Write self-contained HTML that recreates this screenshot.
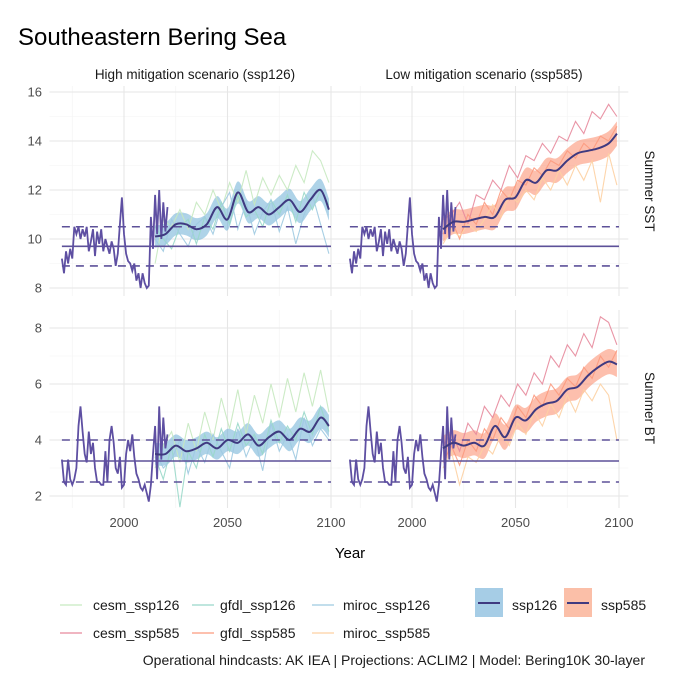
<!DOCTYPE html>
<html><head><meta charset="utf-8"><style>
body{margin:0;background:#fff;width:678px;height:680px;overflow:hidden;font-family:"Liberation Sans",Arial,sans-serif}
svg text{font-family:"Liberation Sans",Arial,sans-serif}
</style></head><body>
<svg id="c" width="678" height="680"></svg>
<script>
const hindYears=[1970,1971,1972,1973,1974,1975,1976,1977,1978,1979,1980,1981,1982,1983,1984,1985,1986,1987,1988,1989,1990,1991,1992,1993,1994,1995,1996,1997,1998,1999,2000,2001,2002,2003,2004,2005,2006,2007,2008,2009,2010,2011,2012,2013,2014,2015,2016,2017,2018,2019,2020,2021];
const hindSST=[9.2,8.6,9.5,9.0,9.6,9.2,10.5,10.2,10.5,10.0,10.4,10.1,10.5,9.5,9.9,10.4,9.3,10.3,9.8,10.4,9.5,10.0,9.7,9.4,9.9,9.6,8.9,9.4,10.6,11.7,10.2,9.4,9.1,9.0,8.7,9.0,8.3,8.6,8.0,8.6,8.2,8.0,8.1,10.9,9.6,11.8,10.2,12.0,10.0,11.5,10.3,11.3];
const hindBT=[3.3,2.5,2.4,3.3,2.6,2.4,2.6,3.0,4.5,5.2,4.3,3.5,3.2,4.3,3.5,3.9,3.0,2.5,2.5,2.4,2.4,3.6,2.5,4.0,4.5,3.9,3.0,2.8,3.4,2.3,2.4,3.5,4.0,3.6,4.2,3.4,2.8,2.6,2.3,2.2,2.4,2.1,1.8,2.4,3.5,4.5,2.6,5.2,3.3,4.8,3.7,4.2];
const meanYears=[2015,2020,2025,2030,2035,2040,2045,2050,2055,2060,2065,2070,2075,2080,2085,2090,2095,2099];
const mSST126=[10.1,10.2,10.6,10.6,10.4,10.6,11.3,10.8,11.9,11.1,11.3,11.0,11.3,11.6,11.1,11.6,12.0,11.2];
const mSST585=[10.4,10.7,10.7,10.8,10.9,10.9,11.6,11.7,12.4,12.3,12.8,12.8,13.2,13.5,13.6,13.7,13.9,14.3];
const mBT126=[3.5,3.5,3.8,3.6,3.7,3.9,3.7,4.0,3.9,4.2,3.8,4.1,4.3,4.0,4.4,4.3,4.8,4.5];
const mBT585=[3.7,3.9,3.8,3.9,3.8,4.5,4.1,4.8,4.7,5.1,5.3,5.4,5.8,5.9,6.3,6.6,6.8,6.7];
const modYears=[2015,2019,2023,2027,2031,2035,2039,2043,2047,2051,2055,2059,2063,2067,2071,2075,2079,2083,2087,2091,2095,2099];
const sst126_cesm=[9.0,10.8,10.5,11.2,10.4,11.5,11.0,12.0,11.2,12.3,11.5,12.8,11.4,12.5,11.8,12.6,12.0,13.0,12.3,13.6,13.2,12.3];
const sst126_gfdl=[10.5,10.0,9.6,10.5,10.8,9.8,10.9,10.4,11.5,10.6,11.8,10.9,11.2,10.5,11.6,11.0,11.8,10.7,11.9,11.2,12.0,11.4];
const sst126_miroc=[10.0,9.5,10.8,10.2,9.7,10.6,10.9,10.2,11.3,11.9,10.4,11.5,10.2,11.1,11.6,10.3,11.3,9.8,11.0,11.8,10.6,9.4];
const sst585_cesm=[10.8,11.0,11.5,10.6,11.8,11.6,12.4,12.0,13.0,12.5,13.4,13.2,13.9,13.5,14.2,14.0,14.8,14.3,15.2,14.9,15.5,15.0];
const sst585_gfdl=[10.2,10.8,10.0,11.0,10.6,11.5,11.0,12.0,11.6,12.4,12.2,12.9,12.6,13.2,13.0,13.6,13.3,13.9,13.6,14.2,14.0,14.6];
const sst585_miroc=[9.8,10.4,10.1,10.6,10.3,10.8,11.4,10.9,11.8,11.5,12.0,11.6,12.5,12.0,12.8,12.2,13.0,12.4,13.2,11.5,13.5,12.2];
const bt126_cesm=[3.0,3.8,4.3,3.2,4.6,3.6,5.0,4.0,5.5,4.4,5.8,4.2,5.6,4.6,6.0,4.8,6.2,5.0,6.4,5.2,6.5,5.0];
const bt126_gfdl=[3.4,2.6,3.8,1.6,3.6,3.0,4.2,3.4,4.4,3.6,4.6,3.8,4.2,3.5,4.7,3.9,4.5,4.0,5.0,4.2,5.2,4.3];
const bt126_miroc=[3.6,3.0,3.3,4.0,2.8,3.8,3.2,4.2,3.6,3.0,4.4,3.4,4.1,2.9,4.6,3.6,4.2,3.3,4.8,3.8,4.4,4.0];
const bt585_cesm=[3.8,4.3,3.6,4.6,4.2,5.2,4.8,5.6,5.2,6.0,5.6,6.4,6.0,7.0,6.6,7.4,7.0,7.8,7.3,8.4,8.2,7.4];
const bt585_gfdl=[3.2,3.8,3.1,4.0,3.6,4.4,4.0,4.8,4.4,5.2,4.8,5.6,5.2,6.0,5.6,6.2,5.9,6.6,6.2,7.0,6.6,7.2];
const bt585_miroc=[3.0,3.6,2.4,3.4,3.2,3.8,3.5,4.2,3.8,4.6,4.2,5.0,4.5,5.3,4.8,5.6,5.0,5.8,5.4,6.0,5.6,4.0];
const sstRef=[8.9,9.7,10.5];
const btRef=[2.5,3.25,4.0];
const sstTicks=[8,10,12,14,16];
const btTicks=[2,4,6,8];
const xTicks=[2000,2050,2100];

const NS='http://www.w3.org/2000/svg';
const svg=document.getElementById('c');
function el(tag,attrs,parent,text){const e=document.createElementNS(NS,tag);for(const k in attrs)e.setAttribute(k,attrs[k]);if(text!==undefined)e.textContent=text;(parent||svg).appendChild(e);return e;}
function xs(col){const base=col===0?124:412;return y=>base+(y-2000)*2.07;}
const ysT=v=>288-(v-8)*24.5;
const ysB=v=>496-(v-2)*28;
function line(xa,ya,X,Y){return xa.map((x,i)=>(i?'L':'M')+X(x).toFixed(1)+','+Y(ya[i]).toFixed(1)).join('');}
function smooth(xa,ya,X,Y){const p=xa.map((x,i)=>[X(x),Y(ya[i])]);let d='M'+p[0][0]+','+p[0][1];for(let i=0;i<p.length-1;i++){const p0=p[i-1]||p[i],p1=p[i],p2=p[i+1],p3=p[i+2]||p2;d+='C'+(p1[0]+(p2[0]-p0[0])/6)+','+(p1[1]+(p2[1]-p0[1])/6)+' '+(p2[0]-(p3[0]-p1[0])/6)+','+(p2[1]-(p3[1]-p1[1])/6)+' '+p2[0]+','+p2[1];}return d;}

el('text',{x:18,y:45,'font-size':24,fill:'#000',},svg,'Southeastern Bering Sea');
el('text',{x:195,y:79,'font-size':13.5,fill:'#1a1a1a','text-anchor':'middle',},svg,'High mitigation scenario (ssp126)');
el('text',{x:484,y:79,'font-size':13.5,fill:'#1a1a1a','text-anchor':'middle',},svg,'Low mitigation scenario (ssp585)');
el('text',{x:0,y:0,'font-size':13.5,fill:'#1a1a1a','text-anchor':'middle',transform:'translate(645,191) rotate(90)',},svg,'Summer SST');
el('text',{x:0,y:0,'font-size':13.5,fill:'#1a1a1a','text-anchor':'middle',transform:'translate(645,408) rotate(90)',},svg,'Summer BT');

const cols={c126:['#c7e9c0','#99d8c9','#9ecae1'],c585:['#e7899c','#fc9a7e','#fdd0a2']};
const panels=[
 {col:0,row:0,Y:ysT,ticks:sstTicks,minor:[9,11,13,15],ref:sstRef,hind:hindSST,mean:mSST126,mods:[sst126_cesm,sst126_gfdl,sst126_miroc],mc:cols.c126,band:'#6baed6',bw:0.45,y0:86,y1:296,name:'sst-ssp126'},
 {col:1,row:0,Y:ysT,ticks:sstTicks,minor:[9,11,13,15],ref:sstRef,hind:hindSST,mean:mSST585,mods:[sst585_cesm,sst585_gfdl,sst585_miroc],mc:cols.c585,band:'#fb8a6a',bw:0.5,y0:86,y1:296,name:'sst-ssp585'},
 {col:0,row:1,Y:ysB,ticks:btTicks,minor:[3,5,7],ref:btRef,hind:hindBT,mean:mBT126,mods:[bt126_cesm,bt126_gfdl,bt126_miroc],mc:cols.c126,band:'#6baed6',bw:0.4,y0:310,y1:508,name:'bt-ssp126'},
 {col:1,row:1,Y:ysB,ticks:btTicks,minor:[3,5,7],ref:btRef,hind:hindBT,mean:mBT585,mods:[bt585_cesm,bt585_gfdl,bt585_miroc],mc:cols.c585,band:'#fb8a6a',bw:0.45,y0:310,y1:508,name:'bt-ssp585'}
];
panels.forEach(p=>{
 const X=xs(p.col),Y=p.Y;const x0=X(1964),x1=X(2104.5);
 const g=el('g',{});
 
 
 [1975,2025,2075].forEach(t=>el('line',{x1:X(t),x2:X(t),y1:p.y0,y2:p.y1,stroke:'#f3f3f3','stroke-width':0.6},g));
 p.minor.forEach(t=>el('line',{x1:x0,x2:x1,y1:Y(t),y2:Y(t),stroke:'#f3f3f3','stroke-width':0.6},g));
 xTicks.forEach(t=>el('line',{x1:X(t),x2:X(t),y1:p.y0,y2:p.y1,stroke:'#e6e6e6','stroke-width':1.1},g));
 p.ticks.forEach(t=>el('line',{x1:x0,x2:x1,y1:Y(t),y2:Y(t),stroke:'#e6e6e6','stroke-width':1.1},g));
 if(p.col===0)p.ticks.forEach(t=>el('text',{x:42,y:Y(t)+4.5,'font-size':13,fill:'#4d4d4d','text-anchor':'end'},g,String(t)));
 if(p.row===1)xTicks.forEach(t=>el('text',{x:X(t),y:527,'font-size':13,fill:'#4d4d4d','text-anchor':'middle'},g,String(t)));
 const up=p.mean.map(v=>v+p.bw),lo=p.mean.map(v=>v-p.bw);
 const bd=smooth(meanYears,up,X,Y)+'L'+smooth(meanYears.slice().reverse(),lo.slice().reverse(),X,Y).slice(1)+'Z';
 const band=el('path',{d:bd,fill:p.band,'fill-opacity':0.55},g);
 
 
 p.mods.forEach((m,i)=>{const l=el('path',{d:line(modYears,m,X,Y),fill:'none',stroke:p.mc[i],'stroke-width':1.1,'stroke-opacity':0.9},g);
  
  });
 const [rl,rm,rh]=p.ref;
 el('line',{x1:X(1970),x2:X(2100),y1:Y(rm),y2:Y(rm),stroke:'#5d5199','stroke-width':1.6},g);
 [rl,rh].forEach(v=>el('line',{x1:X(1970),x2:X(2100),y1:Y(v),y2:Y(v),stroke:'#5d5199','stroke-width':1.6,'stroke-dasharray':'8,6'},g));
 const h=el('path',{d:line(hindYears,p.hind,X,Y),fill:'none',stroke:'#5e4fa2','stroke-width':1.8},g);
 
 
 const ml=el('path',{d:smooth(meanYears,p.mean,X,Y),fill:'none',stroke:'#3f3a80','stroke-width':2},g);
 
 
});
el('text',{x:350,y:558,'font-size':15,fill:'#000','text-anchor':'middle',},svg,'Year');

const lg=el('g',{});
const leg=[['cesm_ssp126',cols.c126[0],60,93,610],['gfdl_ssp126',cols.c126[1],192,220,610],['miroc_ssp126',cols.c126[2],312,343,610],
['cesm_ssp585',cols.c585[0],60,93,638],['gfdl_ssp585',cols.c585[1],192,220,638],['miroc_ssp585',cols.c585[2],312,343,638]];
leg.forEach(a=>{const g=el('g',{},lg);
 
 
 el('line',{x1:a[2],x2:a[2]+22,y1:a[4]-5,y2:a[4]-5,stroke:a[1],'stroke-width':1.3},g);
 el('text',{x:a[3],y:a[4],'font-size':14,fill:'#1a1a1a'},g,a[0]);});
[['ssp126','#a6cde6',475,512],['ssp585','#fbbfa8',564,601]].forEach(a=>{const g=el('g',{},lg);
 
 
 el('rect',{x:a[2],y:588,width:28,height:29,fill:a[1]},g);
 el('line',{x1:a[2]+3,x2:a[2]+25,y1:603,y2:603,stroke:'#3f3a80','stroke-width':2},g);
 el('text',{x:a[3],y:610,'font-size':14,fill:'#1a1a1a'},g,a[0]);});
el('text',{x:645,y:665,'font-size':14,fill:'#1a1a1a','text-anchor':'end',},svg,'Operational hindcasts: AK IEA | Projections: ACLIM2 | Model: Bering10K 30-layer');
</script>
</body></html>
